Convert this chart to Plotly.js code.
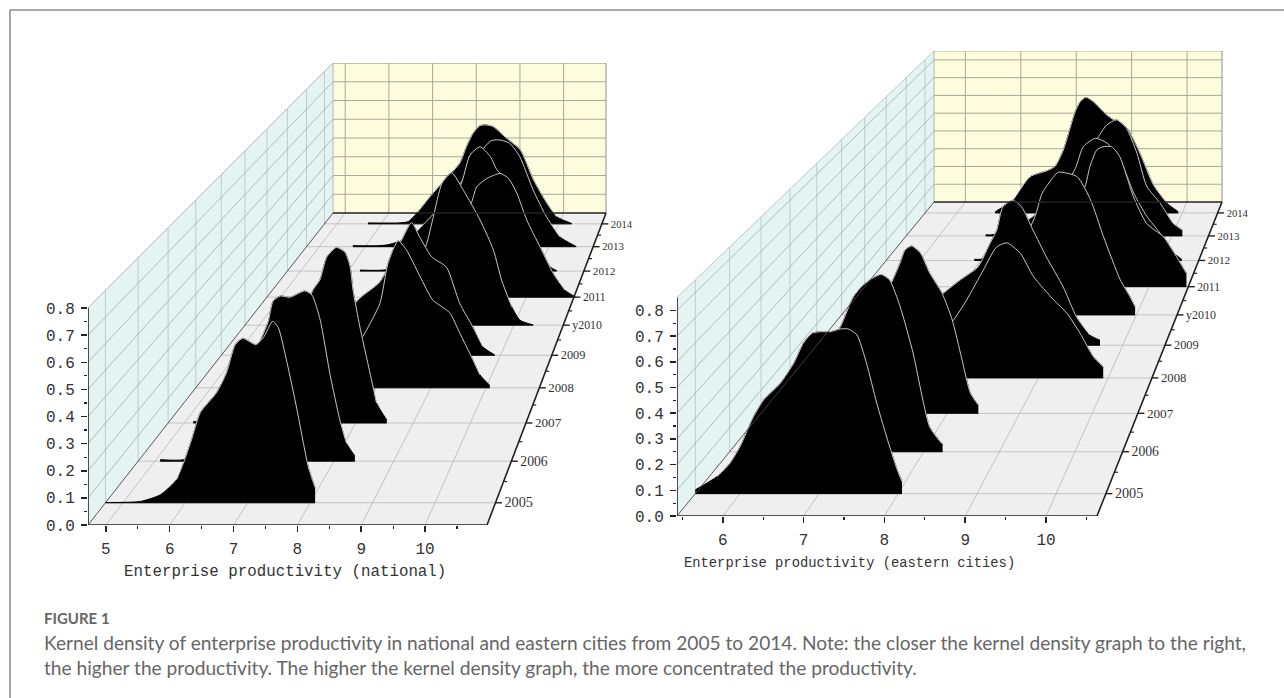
<!DOCTYPE html>
<html><head><meta charset="utf-8">
<script src="https://cdn.plot.ly/plotly-3.0.1.min.js"></script>
<style>html,body{margin:0;padding:0;background:#fff;overflow:hidden}#c{width:1284px;height:698px}</style>
</head><body><div id="c"></div>
<script>
const years=[2005,2006,2007,2008,2009,2010,2011,2012,2013,2014];
const yearLabels=['2005','2006','2007','2008','2009','y2010','2011','2012','2013','2014'];
const densityTicks=[0,0.1,0.2,0.3,0.4,0.5,0.6,0.7,0.8];

// national: productivity (x) and kernel density (d) per year
const natX2005=[4.72,5.28,5.6,5.86,5.97,6.1,6.24,6.5,6.66,6.8,6.92,7.13,7.25,7.4,7.49,7.63,7.79,7.97,8.08];
const natD2005=[0.001,0.005,0.03,0.087,0.15,0.238,0.34,0.415,0.49,0.596,0.62,0.596,0.622,0.684,0.66,0.528,0.35,0.136,0.057];
const natX2006=[5.09,5.48,5.8,6.2,6.5,6.76,6.9,6.98,7.1,7.26,7.51,7.63,7.77,7.93,8.1,8.21,8.35];
const natD2006=[0.006,0.006,0.05,0.2,0.33,0.47,0.55,0.63,0.65,0.645,0.67,0.654,0.555,0.346,0.16,0.07,0.02];
const natX2007=[5.16,5.3,6,6.5,7,7.25,7.37,7.49,7.66,7.81,7.9,7.95,8.07,8.3,8.36,8.54];
const natD2007=[0.006,0.004,0.03,0.1,0.38,0.545,0.586,0.68,0.72,0.7,0.64,0.545,0.394,0.148,0.082,0.012];
const natX2008=[7,7.5,7.8,8.07,8.22,8.4,8.55,8.8,9.03,9.34,9.52,9.76,9.89,10.07];
const natD2008=[0.02,0.12,0.235,0.36,0.533,0.627,0.589,0.475,0.375,0.32,0.235,0.12,0.055,0.01];
const natX2009=[6.8,7,7.3,7.72,8.13,8.32,8.47,8.7,8.98,9.23,9.48,9.67,9.89];
const natD2009=[0.06,0.12,0.244,0.325,0.51,0.588,0.525,0.436,0.39,0.23,0.125,0.037,0.002];
const natX2010=[7,7.6,8,8.29,8.42,8.59,8.78,9.01,9.34,9.6,9.76,9.96,10.12,10.38];
const natD2010=[0.002,0.05,0.2,0.375,0.498,0.652,0.7,0.62,0.482,0.345,0.207,0.084,0.023,0.001];
const natX2011=[7.5,8,8.7,8.89,8.99,9.2,9.47,9.64,9.81,10.01,10.28,10.55,10.79,11];
const natD2011=[0.01,0.09,0.38,0.454,0.525,0.565,0.589,0.565,0.494,0.367,0.24,0.113,0.033,0.001];
const natX2012=[6.25,6.74,7.5,8,8.4,8.57,8.78,9,9.14,9.45,9.69,9.98,10.26,10.4];
const natD2012=[0.005,0.005,0.05,0.22,0.44,0.571,0.612,0.563,0.498,0.43,0.268,0.12,0.02,0.002];
const natX2013=[5.73,6.27,6.5,7,7.5,8,8.3,8.61,8.75,8.94,9.15,9.37,9.66,9.95,10.24,10.6];
const natD2013=[0.005,0.005,0.01,0.05,0.17,0.3,0.4,0.509,0.54,0.543,0.526,0.458,0.289,0.153,0.051,0.001];
const natX2014=[5.7,6.4,6.61,6.8,7.1,7.47,7.77,7.92,8.07,8.22,8.34,8.52,8.82,9.13,9.43,9.73,9.95,10.29];
const natD2014=[0.005,0.005,0.012,0.056,0.143,0.24,0.319,0.406,0.476,0.515,0.52,0.511,0.45,0.389,0.231,0.109,0.038,0.002];

// eastern cities
const eastX2005=[5.434,5.71,5.87,6,6.17,6.3,6.51,6.68,6.8,6.91,7.01,7.14,7.27,7.37,7.48,7.6,7.73,7.88,7.99,8.05];
const eastD2005=[0.015,0.068,0.12,0.187,0.306,0.373,0.439,0.519,0.598,0.638,0.644,0.644,0.655,0.655,0.631,0.519,0.36,0.2,0.094,0.048];
const eastX2006=[5.6,6,6.4,6.7,6.92,7.07,7.2,7.33,7.44,7.55,7.69,7.86,8.08,8.24,8.25];
const eastD2006=[0.01,0.08,0.22,0.4,0.533,0.643,0.692,0.722,0.736,0.713,0.602,0.41,0.103,0.034,0.03];
const eastX2007=[6,6.5,7,7.25,7.35,7.42,7.51,7.63,7.76,7.93,8.07,8.2,8.32,8.43];
const eastD2007=[0.02,0.12,0.42,0.577,0.65,0.707,0.724,0.694,0.607,0.52,0.404,0.239,0.088,0.036];
const eastX2008=[6.8,7.2,7.5,7.78,7.97,8.21,8.4,8.55,8.74,8.93,9.22,9.41,9.6,9.79,9.93];
const eastD2008=[0.01,0.06,0.16,0.26,0.351,0.486,0.59,0.608,0.561,0.456,0.351,0.291,0.2,0.095,0.05];
const eastX2009=[6.8,7,7.32,7.57,7.84,8.02,8.12,8.21,8.36,8.49,8.66,8.86,9.11,9.31,9.51,9.66];
const eastD2009=[0.1,0.15,0.242,0.304,0.366,0.477,0.538,0.647,0.678,0.647,0.538,0.413,0.273,0.132,0.047,0.023];
const eastX2010=[6.9,7.4,7.8,8.2,8.43,8.54,8.72,8.79,9.08,9.29,9.49,9.75,9.9,9.98];
const eastD2010=[0.01,0.05,0.15,0.33,0.477,0.59,0.671,0.692,0.671,0.558,0.38,0.17,0.089,0.04];
const eastX2011=[7.2,7.8,8.4,8.97,9.05,9.16,9.26,9.4,9.53,9.75,9.96,10.23,10.44,10.6];
const eastD2011=[0.01,0.05,0.2,0.502,0.603,0.687,0.703,0.703,0.653,0.452,0.318,0.251,0.151,0.067];
const eastX2012=[6.9,7,7.5,8,8.3,8.58,8.71,8.91,9.11,9.33,9.55,9.77,9.99,10.21,10.35];
const eastD2012=[0.006,0.006,0.05,0.2,0.33,0.479,0.591,0.635,0.609,0.522,0.349,0.228,0.141,0.04,0.005];
const eastX2013=[6.8,6.9,7.2,7.5,8,8.4,8.74,8.88,9.05,9.22,9.4,9.57,9.8,10.02,10.18];
const eastD2013=[0.006,0.006,0.03,0.08,0.2,0.36,0.533,0.596,0.623,0.578,0.444,0.265,0.176,0.068,0.032];
const eastX2014=[6.68,7,7.3,7.6,7.74,7.89,8.1,8.19,8.29,8.42,8.66,8.78,9.02,9.25,9.49,9.73,9.93];
const eastD2014=[0.007,0.072,0.201,0.234,0.257,0.349,0.561,0.617,0.641,0.617,0.543,0.516,0.47,0.331,0.155,0.054,0.007];

const natCurves=[[natX2005,natD2005],[natX2006,natD2006],[natX2007,natD2007],[natX2008,natD2008],[natX2009,natD2009],[natX2010,natD2010],[natX2011,natD2011],[natX2012,natD2012],[natX2013,natD2013],[natX2014,natD2014]];
const eastCurves=[[eastX2005,eastD2005],[eastX2006,eastD2006],[eastX2007,eastD2007],[eastX2008,eastD2008],[eastX2009,eastD2009],[eastX2010,eastD2010],[eastX2011,eastD2011],[eastX2012,eastD2012],[eastX2013,eastD2013],[eastX2014,eastD2014]];

// depth foreshortening of the oblique box: back plane is 0.686 of the front plane
const BACK=0.686, K=1/BACK-1;
const depthT=y=>{const d=(y-2004.5)/10;return (1-1/(1+K*d))/(1-BACK);};

const W=1284,H=698,EXTRA=50;
const panels=[
 {xa:'x',ya:'y',L:88,R:487,F:525,BL:333,BR:606,BF:213,xMin:4.72,xMax:10.97,zTop:0.8,frontH:217,backH:150,curves:natCurves,
  xTicks:[5,6,7,8,9,10],xGrid:[5,6,7,8,9,10],zGrid:[0.1,0.2,0.3,0.4,0.5,0.6,0.7,0.8]},
 {xa:'x2',ya:'y2',L:677,R:1097,F:516,BL:934,BR:1222,BF:202,xMin:5.434,xMax:10.63,zTop:0.85,frontH:218.5,backH:151,curves:eastCurves,
  xTicks:[6,7,8,9,10],xGrid:[6,7,8,9,10],zGrid:[0.1,0.2,0.3,0.4,0.5,0.6,0.7,0.8]}
];
const traces=[];
function add(p,x,y,o){traces.push(Object.assign({type:'scatter',mode:'lines',xaxis:p.xa,yaxis:p.ya,x,y,hoverinfo:'skip',showlegend:false},o));}
panels.forEach(p=>{
 p.sx=(p.R-p.L)/(p.xMax-p.xMin);
 p.sz=p.frontH/p.zTop;
 // (value, depth t, density) -> front-plane axis coordinates
 p.proj=(v,t,z)=>{
  const l=p.L+(p.BL-p.L)*t, r=p.R+(p.BR-p.R)*t, f=p.F+(p.BF-p.F)*t, h=p.frontH+(p.backH-p.frontH)*t;
  const px=l+(r-l)*(v-p.xMin)/(p.xMax-p.xMin);
  const py=f-h*z/p.zTop;
  return [p.xMin+(px-p.L)/p.sx,(p.F-py)/p.sz];
 };
 const P=p.proj;
 const poly=(pts,o)=>add(p,pts.map(q=>q[0]),pts.map(q=>q[1]),o);
 const fill=(pts,c)=>poly(pts,{fill:'toself',fillcolor:c,line:{width:0}});
 fill([P(p.xMin,0,0),P(p.xMax,0,0),P(p.xMax,1,0),P(p.xMin,1,0)],'#efefef');
 fill([P(p.xMin,0,0),P(p.xMin,1,0),P(p.xMin,1,p.zTop),P(p.xMin,0,p.zTop)],'#e3f4f3');
 fill([P(p.xMin,1,0),P(p.xMax,1,0),P(p.xMax,1,p.zTop),P(p.xMin,1,p.zTop)],'#fdfddd');
 const seg=(a,b,l)=>poly([a,b],{line:l});
 years.forEach(y=>{const t=depthT(y);
  seg(P(p.xMin,t,0),P(p.xMax,t,0),{color:'#c4c4c4',width:1});
  seg(P(p.xMin,t,0),P(p.xMin,t,p.zTop),{color:'#c0cccc',width:1});
 });
 p.xGrid.forEach(v=>{
  seg(P(v,0,0),P(v,1,0),{color:'#b8b8b8',width:0.8});
  seg(P(v,1,0),P(v,1,p.zTop),{color:'#a8a898',width:1});
 });
 p.zGrid.forEach(z=>{
  seg(P(p.xMin,0,z),P(p.xMin,1,z),{color:'#a0acac',width:0.8});
  seg(P(p.xMin,1,z),P(p.xMax,1,z),{color:'#a8a898',width:1});
 });
 seg(P(p.xMin,0,p.zTop),P(p.xMin,1,p.zTop),{color:'#b0b8b8',width:0.8});
 seg(P(p.xMin,1,p.zTop),P(p.xMax,1,p.zTop),{color:'#b0b0a0',width:1});
 seg(P(p.xMax,1,0),P(p.xMax,1,p.zTop),{color:'#909088',width:1});
 seg(P(p.xMin,1,0),P(p.xMin,1,p.zTop),{color:'#b0b8b8',width:1});
 // kernel-density curves, back to front
 for(let i=years.length-1;i>=0;i--){
  const t=depthT(years[i]),[xs,ds]=p.curves[i];
  const pts=xs.map((v,k)=>P(v,t,ds[k]));
  const b0=P(xs[0],t,0),b1=P(xs[xs.length-1],t,0);
  add(p,[b0[0],b1[0]],[b0[1],b1[1]],{line:{color:'#000',width:1}});
  add(p,pts.map(q=>q[0]),pts.map(q=>q[1]),{fill:'tonexty',fillcolor:'#000',line:{color:'#000',width:1,shape:'spline',smoothing:0.6}});
  const top=pts.filter((q,k)=>ds[k]>0.03);
  add(p,top.map(q=>q[0]),top.map(q=>q[1]),{line:{color:'#dcdcdc',width:0.9,shape:'spline',smoothing:0.6}});
 }
 // box edges and axis lines
 const dark={color:'#222',width:1.6};
 seg(P(p.xMin,0,0),P(p.xMax,0,0),dark);
 seg(P(p.xMin,0,0),P(p.xMin,0,p.zTop),dark);
 seg(P(p.xMax,0,0),P(p.xMax,1,0),dark);
 seg(P(p.xMin,1,0),P(p.xMax,1,0),dark);
 seg(P(p.xMin,0,0),P(p.xMin,1,0),{color:'#444',width:0.9});
 // depth axis ticks and labels
 const tx=[],ty=[],mx=[],my=[],lx=[],ly=[],ls=[];
 years.forEach((y,i)=>{
  const t=depthT(y),a=P(p.xMax,t,0);
  tx.push(a[0],a[0]+6.5/p.sx,null);ty.push(a[1],a[1],null);
  lx.push(a[0]+9/p.sx);ly.push(a[1]-1/p.sz);ls.push(14.5-4*t);
  if(i<9){const m=P(p.xMax,depthT(y+0.5),0);mx.push(m[0],m[0]+3.5/p.sx,null);my.push(m[1],m[1],null);}
 });
 add(p,tx,ty,{line:{color:'#222',width:1.4}});
 add(p,mx,my,{line:{color:'#222',width:1.2}});
 add(p,lx,ly,{mode:'text',text:yearLabels,textposition:'middle right',cliponaxis:false,textfont:{family:'"Liberation Serif",serif',size:ls,color:'#333'}});
});

const axisFont={family:'"Liberation Mono",monospace',size:16,color:'#333'};
function xAxis(p,dom){return {domain:dom,range:[p.xMin,p.xMin+(p.BR+EXTRA-p.L)/p.sx],anchor:p.ya,showgrid:false,zeroline:false,showline:false,
 tickmode:'array',tickvals:p.xTicks,ticktext:p.xTicks.map(String),ticks:'outside',ticklen:6,tickwidth:1.5,tickcolor:'#222',tickfont:axisFont,ticklabelstandoff:3,
 minor:{ticks:'outside',ticklen:3,tickwidth:1.2,tickcolor:'#222',tickvals:p.xTicks.map(v=>v-0.5).concat([p.xTicks[p.xTicks.length-1]+0.5])},fixedrange:true};}
function yAxis(p,dom,top){return {domain:dom,range:[0,top],anchor:p.xa,showgrid:false,zeroline:false,showline:false,
 tickmode:'array',tickvals:densityTicks,ticktext:densityTicks.map(v=>v.toFixed(1)),ticks:'outside',ticklen:6,tickwidth:1.5,tickcolor:'#222',tickfont:axisFont,ticklabelstandoff:3,
 minor:{ticks:'outside',ticklen:3,tickwidth:1.2,tickcolor:'#222',tickvals:densityTicks.slice(0,-1).map(v=>v+0.05)},fixedrange:true};}
const [a,b]=panels;
const paperNote=(text,x,y,size,color,anchor,family)=>({xref:'paper',yref:'paper',x:x/W,y:1-y/H,text,showarrow:false,xanchor:anchor,yanchor:'middle',align:'left',font:{family,size,color}});
const sans='Lato,"Open Sans",sans-serif';
const layout={width:W,height:H,margin:{l:0,r:0,t:0,b:0},paper_bgcolor:'#fff',plot_bgcolor:'rgba(0,0,0,0)',showlegend:false,
 xaxis:xAxis(a,[a.L/W,(a.BR+EXTRA)/W]),yaxis:yAxis(a,[(H-a.F)/H,(H-63)/H],(a.F-63)/a.sz),
 xaxis2:xAxis(b,[b.L/W,(b.BR+EXTRA)/W]),yaxis2:yAxis(b,[(H-b.F)/H,(H-51)/H],(b.F-51)/b.sz),
 shapes:[
  {type:'line',xref:'paper',yref:'paper',x0:10/W,x1:1284/W,y0:1-10/H,y1:1-10/H,line:{color:'#555',width:1.2}},
  {type:'line',xref:'paper',yref:'paper',x0:10/W,x1:10/W,y0:0,y1:1-10/H,line:{color:'#888',width:1.5}}],
 annotations:[
  paperNote('Enterprise productivity (national)',284.5,572,15.8,'#333','center','"Liberation Mono",monospace'),
  paperNote('Enterprise productivity (eastern cities)',849,563,13.8,'#333','center','"Liberation Mono",monospace'),
  paperNote('<b>FIGURE 1</b>',42,618,15,'#666','left',sans),
  paperNote('Kernel density of enterprise productivity in national and eastern cities from 2005 to 2014. Note: the closer the kernel density graph to the right,',42,642,19.15,'#666','left',sans),
  paperNote('the higher the productivity. The higher the kernel density graph, the more concentrated the productivity.',42,667,19.15,'#666','left',sans)
 ]};
Plotly.newPlot('c',traces,layout,{staticPlot:true,displayModeBar:false});
</script></body></html>
